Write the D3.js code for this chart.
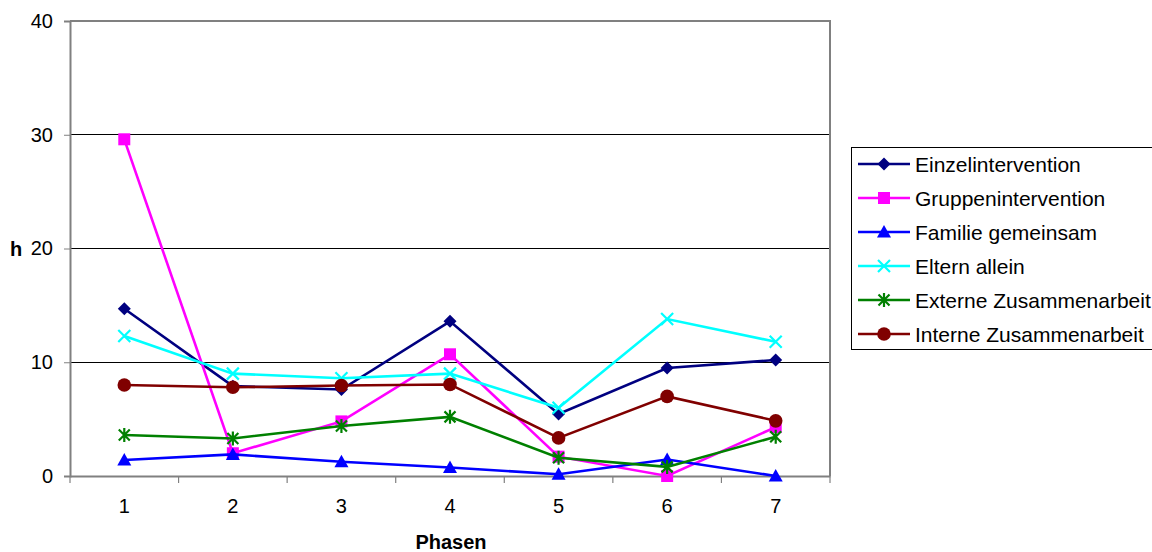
<!DOCTYPE html>
<html><head><meta charset="utf-8">
<script src="https://cdn.jsdelivr.net/npm/d3@7"></script>
<style>body{margin:0;background:#fff}svg{display:block;font-family:"Liberation Sans",Arial,sans-serif}</style>
</head><body><svg id="c" width="1152" height="552"></svg>
<script>
const phases = ["1","2","3","4","5","6","7"];
const yTicks = [0,10,20,30,40];
const seriesNames = ["Einzelintervention","Gruppenintervention","Familie gemeinsam","Eltern allein","Externe Zusammenarbeit","Interne Zusammenarbeit"];
const einzel   = [14.7, 7.9, 7.6, 13.6, 5.45, 9.5, 10.2];
const gruppen  = [29.6, 2.0, 4.8, 10.7, 1.7, 0.0, 4.3];
const familie  = [1.4, 1.9, 1.25, 0.75, 0.15, 1.45, 0.0];
const eltern   = [12.3, 9.0, 8.6, 9.0, 6.0, 13.8, 11.8];
const externe  = [3.6, 3.3, 4.4, 5.2, 1.6, 0.8, 3.45];
const interne  = [8.0, 7.8, 7.95, 8.05, 3.35, 7.0, 4.85];
const seriesValues = [einzel, gruppen, familie, eltern, externe, interne];
const colors = ["#000080","#FF00FF","#0000FF","#00FFFF","#008000","#800000"];
const markers = ["diamond","square","triangle","x","star","circle"];

const svg = d3.select("#c");
const L=70, R=830, T=21, B=476;
const FS = 20;
const x = d3.scaleBand().domain(phases).range([L,R]);
const y = d3.scaleLinear().domain([0,40]).range([B,T]);

// gridlines
svg.append("g").selectAll("line").data(yTicks.filter(d=>d>0&&d<40)).join("line")
  .attr("x1",L).attr("x2",R).attr("y1",d=>y(d)).attr("y2",d=>y(d))
  .attr("stroke","#000").attr("stroke-width",1).attr("shape-rendering","crispEdges");
// plot border top/right
svg.append("path").attr("d",`M${L},${T}H${R}V${B}`).attr("fill","none")
  .attr("stroke","#808080").attr("stroke-width",1.5).attr("shape-rendering","crispEdges");

// y axis
const ya = svg.append("g").attr("transform",`translate(${L},0)`)
  .call(d3.axisLeft(y).tickValues(yTicks).tickSize(6).tickPadding(11));
ya.select(".domain").attr("stroke","#808080").attr("stroke-width",2);
ya.selectAll(".tick line").attr("stroke","#808080");
ya.selectAll("text").attr("font-size",FS).attr("fill","#000").attr("font-family","Liberation Sans, Arial, sans-serif");

// x axis
const xa = svg.append("g").attr("transform",`translate(0,${B})`)
  .call(d3.axisBottom(x).tickSize(0).tickPadding(23));
xa.select(".domain").attr("stroke","#808080").attr("stroke-width",2);
xa.selectAll("text").attr("font-size",FS).attr("fill","#000").attr("font-family","Liberation Sans, Arial, sans-serif");
// tick marks at band boundaries
const bounds = phases.map(p=>x(p)).concat([R]);
svg.append("g").selectAll("line").data(bounds).join("line")
  .attr("x1",d=>d).attr("x2",d=>d).attr("y1",B).attr("y2",B+7)
  .attr("stroke","#808080").attr("stroke-width",1.2);

// axis titles
svg.append("text").attr("x",10).attr("y",y(20)+7).attr("font-size",FS).attr("font-weight","bold").text("h");
svg.append("text").attr("x",451).attr("y",549).attr("text-anchor","middle").attr("font-size",FS).attr("font-weight","bold").text("Phasen");

function drawMarker(g, type, color){
  switch(type){
    case "diamond": g.append("path").attr("d","M0,-6.5L6.5,0L0,6.5L-6.5,0Z").attr("fill",color); break;
    case "square": g.append("rect").attr("x",-6).attr("y",-6).attr("width",12).attr("height",12).attr("fill",color); break;
    case "triangle": g.append("path").attr("d","M0,-7L7,5.5L-7,5.5Z").attr("fill",color); break;
    case "x": g.append("path").attr("d","M-6,-6L6,6M-6,6L6,-6").attr("stroke",color).attr("stroke-width",2.2); break;
    case "star": g.append("path").attr("d","M-5.5,-5.5L5.5,5.5M-5.5,5.5L5.5,-5.5M0,-7V7").attr("stroke",color).attr("stroke-width",2.2); break;
    case "circle": g.append("circle").attr("r",6.8).attr("fill",color); break;
  }
}

const line = d3.line().x((d,i)=>x(phases[i])+x.bandwidth()/2).y(d=>y(d));
seriesValues.forEach((vals,si)=>{
  const g = svg.append("g");
  g.append("path").attr("d",line(vals)).attr("fill","none").attr("stroke",colors[si]).attr("stroke-width",2.6);
  vals.forEach((v,i)=>{
    const m = g.append("g").attr("transform",`translate(${x(phases[i])+x.bandwidth()/2},${y(v)})`);
    drawMarker(m, markers[si], colors[si]);
  });
});

// legend
const lg = svg.append("g");
lg.append("rect").attr("x",851.5).attr("y",147.5).attr("width",320).attr("height",202)
  .attr("fill","#fff").attr("stroke","#000").attr("stroke-width",1);
seriesNames.forEach((n,i)=>{
  const yy = 164 + i*34;
  lg.append("line").attr("x1",858).attr("x2",910).attr("y1",yy).attr("y2",yy).attr("stroke",colors[i]).attr("stroke-width",2.6);
  const m = lg.append("g").attr("transform",`translate(884,${yy})`);
  drawMarker(m, markers[i], colors[i]);
  lg.append("text").attr("x",915).attr("y",yy+7.5).attr("font-size",21).attr("fill","#000").text(n);
});
</script></body></html>
